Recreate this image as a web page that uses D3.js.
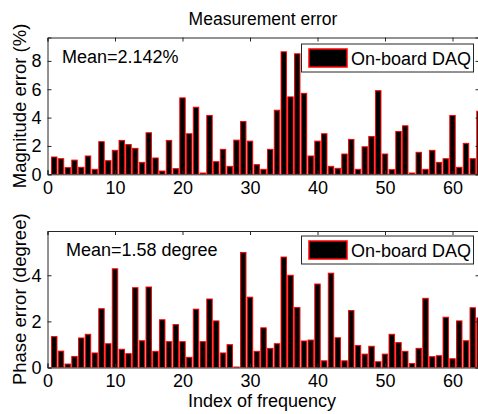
<!DOCTYPE html>
<html><head><meta charset="utf-8">
<script src="https://cdn.jsdelivr.net/npm/d3@7"></script>
<style>
body{margin:0;background:#fff;}
text{font-family:"Liberation Sans",Arial,Helvetica,sans-serif;}
</style></head>
<body>
<svg id="c" width="478" height="414"></svg>
<script>
const indices = d3.range(1, 65);
const magnitudeError = [1.22,1.10,0.47,1.00,0.49,1.29,0.35,2.30,0.96,1.69,
  2.39,2.10,1.83,0.84,2.93,1.15,0.23,2.39,0.40,5.39,
  2.86,4.73,0.09,4.15,0.89,1.76,0.56,2.41,3.72,2.34,
  0.68,0.35,1.76,4.52,8.64,5.46,8.50,5.71,1.29,2.34,
  2.86,0.56,0.42,1.43,2.46,0.35,1.94,2.67,5.90,1.43,
  0.33,3.02,3.42,0.09,1.55,0.35,1.69,0.84,1.10,4.15,
  0.49,2.18,1.10,4.45];
const phaseError = [1.34,0.71,0.15,0.48,1.28,1.44,0.63,2.55,1.03,4.28,
  0.79,0.60,3.46,1.16,3.49,0.70,2.07,1.12,1.86,1.12,
  0.44,2.53,1.12,2.97,2.02,0.63,0.99,0.02,4.99,3.05,
  0.70,1.72,0.83,1.03,4.79,4.00,2.60,1.15,1.19,3.62,
  0.29,4.09,1.29,0.29,2.47,0.95,0.58,0.92,0.25,0.58,
  1.44,1.08,0.70,0.17,0.83,3.00,0.47,0.51,2.18,0.38,
  2.02,1.16,2.59,2.15];
const xTicks = [0,10,20,30,40,50,60];
const magTicks = [0,2,4,6,8];
const phaseTicks = [0,2,4];
const titleText = "Measurement error";
const legendText = "On-board DAQ";

const svg = d3.select("#c");
const x = d3.scaleLinear().domain([0,64]).range([47.5,479.5]);
const axisColor = "#262626";
const fs = 18;

function panel(id, data, yMax, yTop, yBottom, ticks, ylabel, meanText, meanPos, legY) {
  const y = d3.scaleLinear().domain([0,yMax]).range([yBottom, yTop]);
  const g = svg.append("g");
  g.append("clipPath").attr("id","clip"+id).append("rect")
    .attr("x",x(0)).attr("y",yTop).attr("width",x(64)-x(0)).attr("height",yBottom-yTop);
  const bw = x(0.8)-x(0);
  g.append("g").attr("clip-path","url(#clip"+id+")")
    .selectAll("rect").data(data).join("rect")
    .attr("x",(d,i)=>x(indices[i])-bw/2)
    .attr("y",d=>y(d))
    .attr("width",bw)
    .attr("height",d=>y(0)-y(d))
    .attr("fill","#000").attr("stroke","#ff0000").attr("stroke-width",1);
  const ax = g.append("g").attr("transform",`translate(0,${yBottom})`)
    .call(d3.axisBottom(x).tickValues(xTicks).tickSize(-4).tickPadding(7).tickFormat(d3.format("d")));
  const axt = g.append("g").attr("transform",`translate(0,${yTop})`)
    .call(d3.axisTop(x).tickValues(xTicks).tickSize(-4).tickFormat(""));
  const ay = g.append("g").attr("transform",`translate(${x(0)},0)`)
    .call(d3.axisLeft(y).tickValues(ticks).tickSize(-4).tickPadding(6).tickFormat(d3.format("d")));
  const ayr = g.append("g").attr("transform",`translate(${x(64)},0)`)
    .call(d3.axisRight(y).tickValues(ticks).tickSize(-4).tickFormat(""));
  [ax,axt,ay,ayr].forEach(a=>{
    a.selectAll("path").attr("stroke",axisColor);
    a.selectAll("line").attr("stroke",axisColor);
    a.selectAll("text").attr("font-size",fs).attr("fill","#000")
      .attr("font-family","Liberation Sans, Arial, sans-serif");
  });
  g.append("text")
    .attr("transform",`translate(26,${(yTop+yBottom)/2}) rotate(-90)`)
    .attr("text-anchor","middle").attr("font-size",18.5).text(ylabel);
  g.append("text").attr("x",meanPos[0]).attr("y",meanPos[1])
    .attr("font-size",fs).text(meanText);
  g.append("rect").attr("x",301.5).attr("y",legY).attr("width",172).attr("height",28)
    .attr("fill","#fff").attr("stroke",axisColor).attr("stroke-width",1);
  g.append("rect").attr("x",309).attr("y",legY+5).attr("width",38).attr("height",18)
    .attr("fill","#000").attr("stroke","#ff0000").attr("stroke-width",1.5);
  g.append("text").attr("x",351).attr("y",legY+21).attr("font-size",fs).text(legendText);
  return y;
}

panel("a", magnitudeError, 9.65, 37.5, 174.3, magTicks, "Magnitude error (%)", "Mean=2.142%", [62,63], 44);
panel("b", phaseError, 5.92, 231, 367.5, phaseTicks, "Phase error (degree)", "Mean=1.58 degree", [66,256], 236);

svg.append("text").attr("x",263).attr("y",25).attr("text-anchor","middle")
  .attr("font-size",17.5).text(titleText);
svg.append("text").attr("x",262).attr("y",407).attr("text-anchor","middle")
  .attr("font-size",fs).text("Index of frequency");
</script>
</body></html>
